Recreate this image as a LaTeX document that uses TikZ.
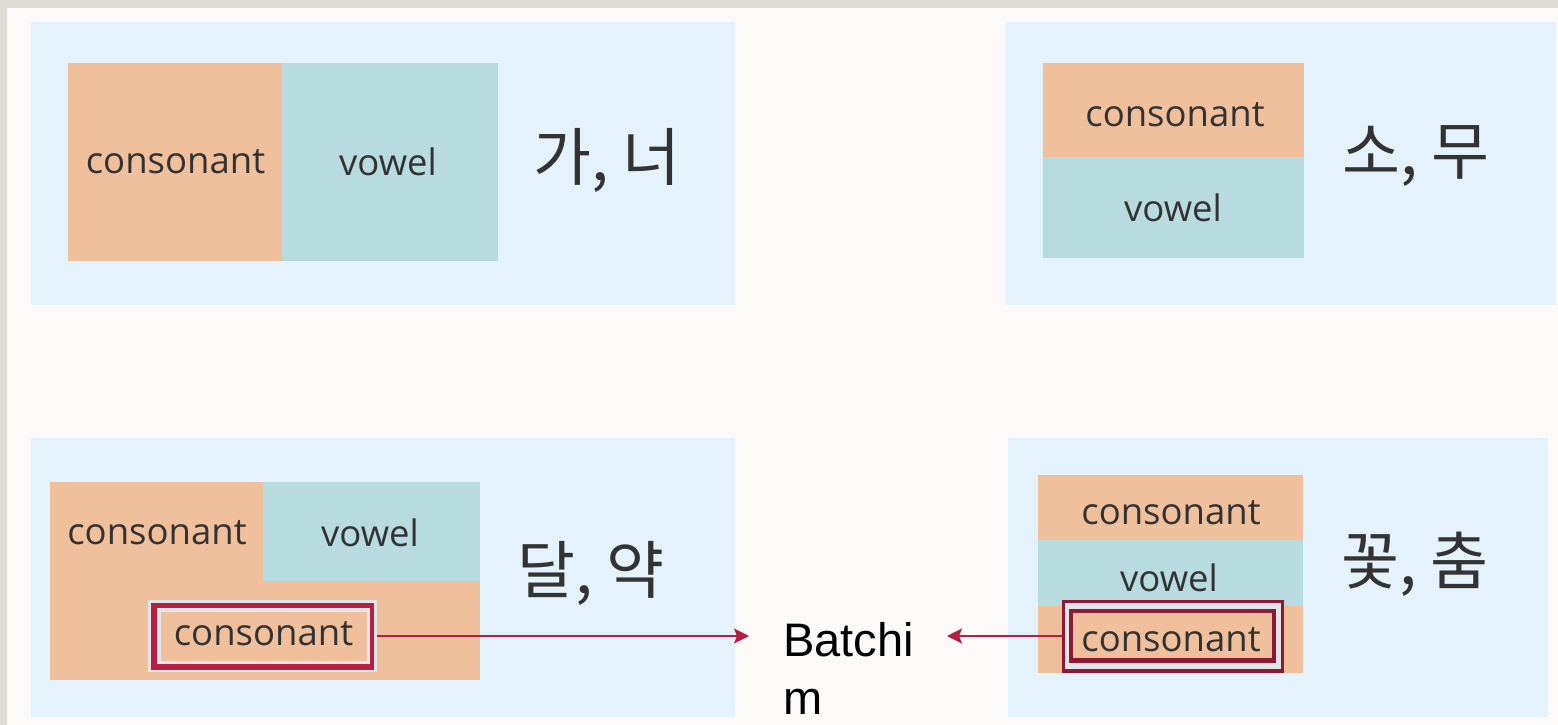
\documentclass[tikz,border=0pt]{standalone}
\usepackage{fontspec}
\setmainfont{Open Sans}
\newfontfamily\krfont{Noto Sans CJK KR}
\newfontfamily\arialfont{Liberation Sans}
\usetikzlibrary{arrows.meta}
\definecolor{frame}{HTML}{DEDBD4}
\definecolor{page}{HTML}{FBFAF8}
\definecolor{panel}{HTML}{E3F2FB}
\definecolor{cons}{HTML}{F0BF9B}
\definecolor{vow}{HTML}{B7DBDF}
\definecolor{txt}{HTML}{333333}
\definecolor{redA}{HTML}{B71E41}
\definecolor{redB}{HTML}{8C1A35}
\definecolor{lite}{HTML}{E2E6EA}
\tikzset{
  lbl/.style={font=\fontsize{36.5}{40}\selectfont, text=txt, inner sep=0pt, anchor=center},
  kr/.style={font=\krfont\fontsize{63}{66}\selectfont, text=txt, inner sep=0pt, anchor=center},
  arr/.style={line width=1.6pt, -{Stealth[length=15pt,width=15pt,inset=3pt]}},
}
\begin{document}
\begin{tikzpicture}[x=1pt,y=-1pt]
\useasboundingbox (0,0) rectangle (1558,725);
% background
\fill[frame] (0,0) rectangle (1558,725);
\fill[page] (7,8) rectangle (1558,725);
% panels
\fill[panel] (31,22.5) rectangle (735,305);
\fill[panel] (1006,22.5) rectangle (1556,305);
\fill[panel] (31,438) rectangle (735,717);
\fill[panel] (1008,438) rectangle (1548,717);
% panel 1
\fill[cons] (67.7,63.5) rectangle (281.7,261);
\fill[vow] (281.7,63.5) rectangle (498.3,261);
\node[lbl] (c1) at (175.5,162) {consonant};
\node[lbl] (v1) at (388,162) {vowel};
\node[kr] (k1) at (607,160) {가, 너};
% panel 2
\fill[cons] (1043,63) rectangle (1304,157);
\fill[vow] (1043,157) rectangle (1304,258);
\node[lbl] (c2) at (1175,115) {consonant};
\node[lbl] (v2) at (1173,208) {vowel};
\node[kr] (k2) at (1416,156) {소, 무};
% panel 3
\fill[cons] (49.5,482) rectangle (480,680);
\fill[vow] (263,482) rectangle (480,581);
\node[lbl] (c3) at (157,533) {consonant};
\node[lbl] (v3) at (370,533) {vowel};
\node[kr] (k3) at (591,573) {달, 약};
\fill[lite] (148,600) rectangle (376.5,672);
\fill[redA] (150.7,602.7) rectangle (374.3,670);
\fill[lite] (156.7,608.3) rectangle (370,664);
\fill[cons] (160.7,611.7) rectangle (367.3,660.7);
\coordinate (b1) at (376.5,636);
\node[lbl] (c4) at (263.5,634) {consonant};
% panel 4
\fill[cons] (1038,475) rectangle (1302.7,540);
\fill[vow] (1038,540) rectangle (1302.7,606);
\fill[cons] (1038,606) rectangle (1302.7,673);
\node[lbl] (c5) at (1171,513) {consonant};
\node[lbl] (v5) at (1169,578) {vowel};
\node[kr] (k4) at (1415,564) {꽃, 춤};
\fill[redB] (1061.7,600) rectangle (1284.3,672.7);
\fill[lite] (1065,603.3) rectangle (1281,669.3);
\fill[redB] (1069.3,609) rectangle (1276,663.3);
\fill[cons] (1073.3,613.3) rectangle (1271.7,658.3);
\coordinate (b2) at (1061.7,636);
\node[lbl] (c6) at (1171,640) {consonant};
% batchim
\node[font=\arialfont\fontsize{47}{58}\selectfont, align=left, inner sep=0pt, anchor=north west, text=black] (bt) at (783,622) {Batchi\\m};
\coordinate (t1) at (749,636);
\coordinate (t2) at (947,636);
\draw[arr, redA] (b1) -- (t1);
\draw[arr, redA] (b2) -- (t2);
\end{tikzpicture}
\end{document}
